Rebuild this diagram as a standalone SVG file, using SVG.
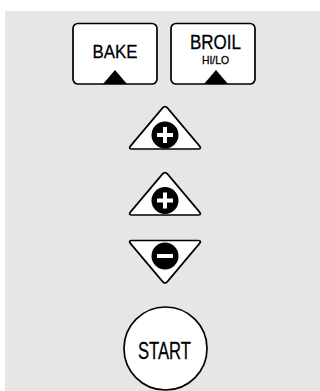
<svg xmlns="http://www.w3.org/2000/svg" width="320" height="391" viewBox="0 0 320 391">
<style>
.key{fill:#fff;stroke:#000;stroke-width:1.7;stroke-linejoin:round}
.lbl{font-family:"Liberation Sans",Arial,sans-serif;fill:#000;stroke:#000;stroke-width:0.3;text-anchor:middle}
.mark{fill:#000}
.bar{fill:#fff}
</style>
<rect x="0" y="0" width="320" height="391" fill="#fff"/>
<rect x="5" y="11" width="315" height="380" fill="#e6e6e6"/>
<g id="bake">
<rect class="key" x="73" y="23.5" width="84" height="60.5" rx="5"/>
<text class="lbl" x="115" y="58" font-size="19" textLength="45" lengthAdjust="spacingAndGlyphs">BAKE</text>
<path class="mark" d="M115,70 L127,84 L103,84 Z"/>
</g>
<g id="broil">
<rect class="key" x="171" y="23.5" width="84" height="60.5" rx="5"/>
<text class="lbl" x="215.5" y="49" font-size="20" textLength="51" lengthAdjust="spacingAndGlyphs">BROIL</text>
<text class="lbl" x="215.5" y="64" font-size="10.5" stroke-width="0.2" textLength="27" lengthAdjust="spacingAndGlyphs">HI/LO</text>
<path class="mark" d="M216,70 L228,84 L204,84 Z"/>
</g>
<g id="plus1">
<path class="key" d="M132,149 L198,149 Q202,149 199.4,145.9 L167.6,108.1 Q165,105 162.4,108.1 L130.6,145.9 Q128,149 132,149 Z"/>
<circle class="mark" cx="165" cy="135" r="13.5"/>
<rect class="bar" x="163" y="127" width="4" height="16"/>
<rect class="bar" x="157" y="133" width="16" height="4"/>
</g>
<g id="plus2">
<path class="key" d="M132,215 L198,215 Q202,215 199.4,211.9 L167.6,174.1 Q165,171 162.4,174.1 L130.6,211.9 Q128,215 132,215 Z"/>
<circle class="mark" cx="165" cy="200.5" r="13.5"/>
<rect class="bar" x="163" y="192.5" width="4" height="16"/>
<rect class="bar" x="157" y="198.5" width="16" height="4"/>
</g>
<g id="minus">
<path class="key" d="M132,240.5 L198,240.5 Q202,240.5 199.4,243.6 L167.6,281.4 Q165,284.5 162.4,281.4 L130.6,243.6 Q128,240.5 132,240.5 Z"/>
<circle class="mark" cx="165" cy="256" r="13.5"/>
<rect class="bar" x="157" y="254" width="16" height="4"/>
</g>
<g id="start">
<circle class="key" cx="165.5" cy="348.5" r="41.5"/>
<text class="lbl" x="164.5" y="359" font-size="24" textLength="53" lengthAdjust="spacingAndGlyphs">START</text>
</g>
</svg>
